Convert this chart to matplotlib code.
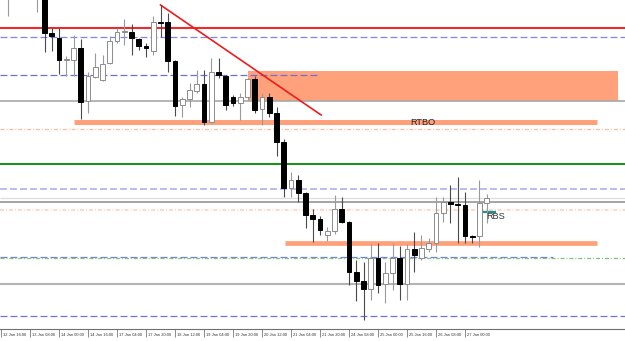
import matplotlib
matplotlib.use("Agg")
import matplotlib.pyplot as plt
from matplotlib.transforms import ScaledTranslation
import numpy as np

# H4 candles (first bars mostly above the visible range)
opens = [1.1495, 1.1475, 1.1490, 1.1500, 1.1492, 1.1485, 1.1490, 1.1437, 1.1432, 1.1410,
         1.1410, 1.1422, 1.1369, 1.1393, 1.1390, 1.1407, 1.1429, 1.1438, 1.1438, 1.1431,
         1.1424, 1.1419, 1.1448, 1.1448, 1.1409, 1.1365, 1.1371, 1.1379, 1.1386, 1.1348,
         1.1398, 1.1394, 1.1373, 1.1367, 1.1373, 1.1391, 1.1361, 1.1373, 1.1357, 1.1328,
         1.1282, 1.1290, 1.1277, 1.1255, 1.1251, 1.1235, 1.1239, 1.1261, 1.1248, 1.1198,
         1.1189, 1.1181, 1.1212, 1.1186, 1.1197, 1.1212, 1.1186, 1.1221, 1.1212, 1.1221,
         1.1227, 1.1257, 1.1268, 1.1266, 1.1265, 1.1234, 1.1234, 1.1267]
highs = [1.1515, 1.1500, 1.1510, 1.1515, 1.1505, 1.1500, 1.1495, 1.1442, 1.1442, 1.1414,
         1.1435, 1.1431, 1.1398, 1.1417, 1.1415, 1.1434, 1.1442, 1.1451, 1.1446, 1.1432,
         1.1427, 1.1454, 1.1465, 1.1457, 1.1410, 1.1373, 1.1387, 1.1400, 1.1400, 1.1412,
         1.1412, 1.1395, 1.1375, 1.1377, 1.1392, 1.1394, 1.1377, 1.1377, 1.1363, 1.1331,
         1.1298, 1.1295, 1.1278, 1.1261, 1.1254, 1.1243, 1.1275, 1.1273, 1.1249, 1.1210,
         1.1208, 1.1226, 1.1227, 1.1208, 1.1227, 1.1224, 1.1226, 1.1238, 1.1235, 1.1232,
         1.1273, 1.1273, 1.1285, 1.1293, 1.1278, 1.1235, 1.1290, 1.1276]
lows = [1.1478, 1.1454, 1.1475, 1.1482, 1.1478, 1.1458, 1.1418, 1.1419, 1.1396, 1.1394,
        1.1394, 1.1351, 1.1357, 1.1392, 1.1389, 1.1406, 1.1427, 1.1425, 1.1415, 1.1420,
        1.1413, 1.1415, 1.1433, 1.1398, 1.1354, 1.1353, 1.1363, 1.1377, 1.1345, 1.1347,
        1.1392, 1.1360, 1.1364, 1.1350, 1.1370, 1.1357, 1.1345, 1.1353, 1.1314, 1.1273,
        1.1273, 1.1268, 1.1242, 1.1228, 1.1235, 1.1229, 1.1236, 1.1247, 1.1185, 1.1169,
        1.1150, 1.1170, 1.1177, 1.1167, 1.1180, 1.1170, 1.1170, 1.1198, 1.1210, 1.1218,
        1.1218, 1.1248, 1.1247, 1.1227, 1.1227, 1.1227, 1.1223, 1.1247]
closes = [1.1505, 1.1490, 1.1500, 1.1492, 1.1485, 1.1490, 1.1437, 1.1434, 1.1410, 1.1411,
          1.1422, 1.1368, 1.1394, 1.1403, 1.1406, 1.1429, 1.1438, 1.1439, 1.1432, 1.1424,
          1.1422, 1.1448, 1.1447, 1.1409, 1.1364, 1.1371, 1.1380, 1.1386, 1.1348, 1.1398,
          1.1395, 1.1365, 1.1367, 1.1373, 1.1391, 1.1360, 1.1373, 1.1357, 1.1328, 1.1282,
          1.1290, 1.1277, 1.1255, 1.1251, 1.1240, 1.1239, 1.1261, 1.1248, 1.1198, 1.1189,
          1.1181, 1.1212, 1.1185, 1.1197, 1.1212, 1.1186, 1.1221, 1.1215, 1.1222, 1.1227,
          1.1257, 1.1268, 1.1266, 1.1265, 1.1234, 1.1233, 1.1267, 1.1272]

tick_bars = list(range(0, 65, 4))
tick_labels = ["12 Jan 16:00", "13 Jan 08:00", "14 Jan 00:00", "14 Jan 16:00",
               "17 Jan 04:00", "17 Jan 20:00", "18 Jan 12:00", "19 Jan 04:00",
               "19 Jan 20:00", "20 Jan 12:00", "21 Jan 04:00", "21 Jan 20:00",
               "24 Jan 08:00", "25 Jan 00:00", "25 Jan 16:00", "26 Jan 08:00",
               "27 Jan 00:00"]

# drawn levels (price) and their bar spans
red_level = 1.1442
blue_top = 1.1433
blue_mid = 1.1395
blue_mid_end = 44
gray_top = 1.1369
zone_top, zone_bottom = 1.1399, 1.1369
zone_start, zone_end = 34.1, 85.1
rtbo_level = 1.1348
rtbo_start, rtbo_end = 10.1, 82.2
salmon_top = 1.1341
green_level = 1.1306
lilac_level = 1.1281
lightgray_level = 1.1272
gray_mid = 1.1268
salmon_mid = 1.1260
rbs_level = 1.1258
rbs_start, rbs_end = 66.1, 68.3
support_level = 1.1227
support_start, support_end = 39.2, 82.2
blue_low = 1.1213
blue_low_end = 76.1
green_dd = 1.1212
gray_low = 1.1186
blue_bottom = 1.1154
trend_x = [22, 44.15]
trend_y = [1.1465, 1.1355]

plt.rcParams["lines.scale_dashes"] = False
plt.rcParams["font.family"] = ["Liberation Sans", "DejaVu Sans"]

fig = plt.figure(figsize=(6.25, 3.41), dpi=100)
ax = fig.add_axes([0, 12 / 341, 1, 329 / 341])
x_left, x_right = -0.14, 86.07
ax.set_xlim(x_left, x_right)
ax.set_ylim(1.1141, 1.1470)

dash = (0, (5.0, 2.2))
dashdot = (0, (2.9, 1.4, 0.7, 1.4))

def hline(y, x0=x_left, x1=x_right, **kw):
    ax.plot([x0, x1], [y, y], solid_capstyle="butt", zorder=1, **kw)

# zone and levels
ax.fill_between([zone_start, zone_end], zone_bottom, zone_top, color="#ffa27c", lw=0, zorder=0.5)
hline(red_level, color="#ee2a2a", lw=1.5)
hline(blue_top, color="#8484ee", lw=0.9, ls=dash)
hline(blue_mid, x1=blue_mid_end, color="#6f6fd8", lw=0.9, ls=dash)
hline(gray_top, color="#a8a8a8", lw=1.2)
hline(rtbo_level, rtbo_start, rtbo_end, color="#ffa07a", lw=3.6)
hline(salmon_top, color="#ffb8a0", lw=0.9, ls=dashdot)
hline(green_level, color="#008a00", lw=1.3)
hline(lilac_level, color="#a8a8f2", lw=1.1, ls=dash)
hline(lightgray_level, color="#dddddd", lw=0.9)
hline(gray_mid, color="#8c8c8c", lw=1.1)
hline(salmon_mid, color="#ffcdb8", lw=1.1, ls=dashdot)
hline(support_level, support_start, support_end, color="#ffa07a", lw=3.4)
hline(blue_low, x1=blue_low_end, color="#7a7ae8", lw=0.9, ls=dash)
hline(green_dd, color="#7cc47c", lw=0.9, ls=dashdot)
hline(gray_low, color="#b4b4b4", lw=1.5)
hline(blue_bottom, color="#7070ee", lw=0.9, ls=dash)
ax.plot(trend_x, trend_y, color="#ee1c1c", lw=1.2, zorder=1)
hline(rbs_level, rbs_start, rbs_end, color="#1a9090", lw=1.6)

# candles
o = np.array(opens)
c = np.array(closes)
idx = np.arange(len(o))
up = c >= o
ax.vlines(idx[up], np.array(lows)[up], np.array(highs)[up], color="#9a9a9a", lw=0.8, zorder=2)
ax.vlines(idx[~up], np.array(lows)[~up], np.array(highs)[~up], color="#4a4a4a", lw=0.8, zorder=2)
bottoms = np.minimum(o, c)
heights = np.abs(c - o)
ax.bar(idx[up], heights[up], bottom=bottoms[up], width=0.66, color="white",
       edgecolor="#8c8c8c", lw=0.7, zorder=3)
ax.bar(idx[~up], heights[~up], bottom=bottoms[~up], width=0.66, color="black",
       edgecolor="black", lw=0.7, zorder=3)

ax.text(56.4, rtbo_level - 0.00005, "RTBO", fontsize=6.6, color="#222222",
        ha="left", va="center", zorder=4)
ax.text(66.9, rbs_level - 0.0004, "RBS", fontsize=6.6, color="#333333",
        ha="left", va="center", zorder=4)

# axis
for s in ["top", "left", "right"]:
    ax.spines[s].set_visible(False)
ax.spines["bottom"].set_color("#707070")
ax.spines["bottom"].set_linewidth(0.8)
ax.set_yticks([])
ax.set_xticks(tick_bars)
ax.set_xticklabels(tick_labels, fontsize=2.9, color="#333333", ha="left")
ax.tick_params(axis="x", length=6, width=0.6, color="#777777", pad=-3.2)
offset = ScaledTranslation(2 / 100, 0, fig.dpi_scale_trans)
for lab in ax.get_xticklabels():
    lab.set_transform(lab.get_transform() + offset)

fig.savefig("out.png", dpi=100)
